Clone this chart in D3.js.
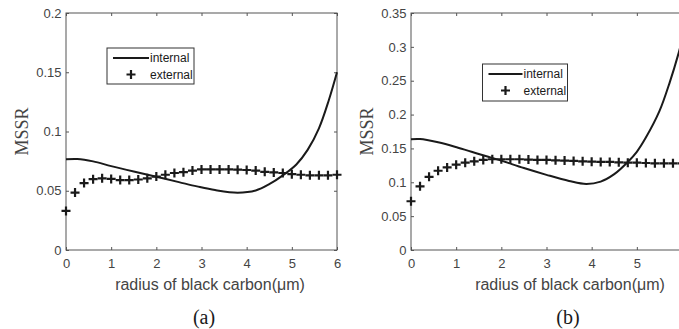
<!DOCTYPE html>
<html>
<head>
<meta charset="utf-8">
<script src="https://cdn.jsdelivr.net/npm/d3@7"></script>
<style>
  body { margin: 0; background: #fff; }
  svg { display: block; }
  .tick text { font-family: "Liberation Sans", Arial, sans-serif; font-size: 13px; fill: #444; }
  .tick line { stroke: #555; }
</style>
</head>
<body>
<svg></svg>
<script>
var width = 679;
var height = 329;

// panel (a)
var xExtA = [0, 0.2, 0.4, 0.6, 0.8, 1.0, 1.2, 1.4, 1.6, 1.8, 2.0, 2.2, 2.4, 2.6, 2.8, 3.0,
             3.2, 3.4, 3.6, 3.8, 4.0, 4.2, 4.4, 4.6, 4.8, 5.0, 5.2, 5.4, 5.6, 5.8, 6.0];
var extA = [0.033, 0.0485, 0.0565, 0.0598, 0.0605, 0.060, 0.059, 0.059, 0.0595, 0.0605, 0.062,
            0.0635, 0.065, 0.0657, 0.067, 0.068, 0.068, 0.068, 0.068, 0.0678, 0.0675, 0.067,
            0.066, 0.0655, 0.065, 0.064, 0.0635, 0.063, 0.063, 0.063, 0.0635];
var xIntA = [0, 0.25, 0.6, 1.0, 1.5, 2.0, 2.5, 2.9, 3.3, 3.8, 4.2, 4.5, 4.8, 5.1, 5.35, 5.6, 5.82, 6.0];
var intA = [0.0765, 0.0768, 0.0748, 0.0708, 0.0662, 0.0618, 0.0573, 0.0537, 0.0506, 0.0484,
            0.0502, 0.0555, 0.063, 0.0722, 0.0845, 0.1027, 0.1266, 0.150];
var yTicksA = [0, 0.05, 0.1, 0.15, 0.2];

// panel (b)
var xExtB = xExtA;
var extB = [0.072, 0.094, 0.108, 0.117, 0.122, 0.126, 0.129, 0.131, 0.133, 0.134, 0.134,
            0.134, 0.134, 0.1335, 0.133, 0.133, 0.1325, 0.132, 0.1315, 0.131, 0.1305, 0.130,
            0.130, 0.1295, 0.129, 0.129, 0.1285, 0.128, 0.128, 0.128, 0.128];
var xIntB = [0, 0.2, 0.6, 0.97, 1.34, 1.71, 2.0, 2.5, 3.0, 3.5, 3.88, 4.2, 4.5, 4.8, 5.0, 5.2, 5.5, 5.73, 5.93, 6.0];
var intB = [0.1635, 0.1638, 0.159, 0.1526, 0.145, 0.1378, 0.132, 0.121, 0.111, 0.102, 0.0975,
            0.101, 0.112, 0.13, 0.145, 0.166, 0.205, 0.248, 0.292, 0.31];
var yTicksB = [0, 0.05, 0.1, 0.15, 0.2, 0.25, 0.3, 0.35];

var xTicks = [0, 1, 2, 3, 4, 5, 6];
var seriesNames = ["internal", "external"];

var svg = d3.select("svg")
    .attr("width", width)
    .attr("height", height);

var ink = "#1a1a1a";
var plus = "M-4.5,0H4.5M0,-4.5V4.5";

function panel(p) {
    var x = d3.scaleLinear().domain([0, 6]).range([p.left, p.right]);
    var y = d3.scaleLinear().domain(p.yDomain).range([p.bottom, p.top]);
    var g = svg.append("g");

    g.append("g")
        .attr("transform", "translate(0," + p.bottom + ")")
        .call(d3.axisBottom(x).tickValues(p.xTicks).tickSize(-3).tickPadding(9).tickFormat(d3.format("~g")))
        .call(a => a.select(".domain").remove());
    g.append("g")
        .attr("transform", "translate(0," + p.top + ")")
        .call(d3.axisTop(x).tickValues(p.xTicks).tickSize(-3).tickFormat(""))
        .call(a => a.select(".domain").remove());
    g.append("g")
        .attr("transform", "translate(" + p.left + ",0)")
        .call(d3.axisLeft(y).tickValues(p.yTicks).tickSize(-3).tickPadding(4.5).tickFormat(d3.format("~g")))
        .call(a => a.select(".domain").remove());
    g.append("g")
        .attr("transform", "translate(" + p.right + ",0)")
        .call(d3.axisRight(y).tickValues(p.yTicks).tickSize(-3).tickFormat(""))
        .call(a => a.select(".domain").remove());

    g.append("rect")
        .attr("x", p.left).attr("y", p.top)
        .attr("width", p.right - p.left).attr("height", p.bottom - p.top)
        .attr("fill", "none").attr("stroke", "#555").attr("stroke-width", 1);

    var line = d3.line()
        .x((d, i) => x(p.xInt[i]))
        .y(d => y(d))
        .curve(d3.curveCatmullRom.alpha(0.5));
    g.append("path")
        .attr("d", line(p.intv))
        .attr("fill", "none").attr("stroke", ink).attr("stroke-width", 2);

    g.selectAll("path.ext")
        .data(p.extv)
        .enter()
        .append("path")
        .attr("class", "ext")
        .attr("d", plus)
        .attr("transform", (d, i) => "translate(" + x(p.xExt[i]) + "," + y(d) + ")")
        .attr("stroke", ink).attr("stroke-width", 2.2);

    // labels
    g.append("text")
        .attr("transform", "translate(" + (p.left - 44) + "," + ((p.top + p.bottom) / 2) + ") rotate(-90)")
        .attr("text-anchor", "middle")
        .attr("dy", "0.35em")
        .style("font-family", "Liberation Serif, Times New Roman, serif")
        .style("font-size", "18px")
        .style("fill", "#444")
        .text("MSSR");
    g.append("text")
        .attr("x", p.labelX).attr("y", 290)
        .attr("text-anchor", "middle")
        .style("font-family", "Liberation Sans, Arial, sans-serif")
        .style("font-size", "16px")
        .style("fill", "#444")
        .text("radius of black carbon(μm)");
    g.append("text")
        .attr("x", p.capX).attr("y", 324)
        .attr("text-anchor", "middle")
        .style("font-family", "Liberation Serif, Times New Roman, serif")
        .style("font-size", "20px")
        .style("fill", "#1a1a1a")
        .text(p.caption);

    // legend
    var L = p.legend;
    g.append("rect")
        .attr("x", L.x).attr("y", L.y).attr("width", L.w).attr("height", L.h)
        .attr("fill", "#fff").attr("stroke", "#333").attr("stroke-width", 1);
    g.append("line")
        .attr("x1", L.x + 6).attr("x2", L.x + 6 + L.sw)
        .attr("y1", L.y + 10).attr("y2", L.y + 10)
        .attr("stroke", ink).attr("stroke-width", 2);
    g.append("path")
        .attr("d", plus)
        .attr("transform", "translate(" + (L.x + 6 + L.sw / 2) + "," + (L.y + 26.5) + ")")
        .attr("stroke", ink).attr("stroke-width", 2.2);
    g.selectAll("text.leg")
        .data(seriesNames)
        .enter()
        .append("text")
        .attr("class", "leg")
        .attr("x", L.x + 7 + L.sw)
        .attr("y", (d, i) => L.y + 10 + i * 16.5)
        .attr("dy", "0.35em")
        .style("font-family", "Liberation Sans, Arial, sans-serif")
        .style("font-size", "12px")
        .style("fill", "#1a1a1a")
        .text(d => d);
}

panel({
    left: 66, right: 337, top: 13, bottom: 250,
    yDomain: [0, 0.2], yTicks: yTicksA, xTicks: xTicks,
    xInt: xIntA, intv: intA, xExt: xExtA, extv: extA,
    labelX: 210, capX: 204, caption: "(a)",
    legend: { x: 107, y: 48, w: 87, h: 36, sw: 36 }
});

panel({
    left: 411, right: 682, top: 13, bottom: 250,
    yDomain: [0, 0.35], yTicks: yTicksB, xTicks: xTicks.slice(0, 6),
    xInt: xIntB, intv: intB, xExt: xExtB, extv: extB,
    labelX: 570, capX: 568, caption: "(b)",
    legend: { x: 482.5, y: 64, w: 85, h: 37, sw: 34 }
});
</script>
</body>
</html>
